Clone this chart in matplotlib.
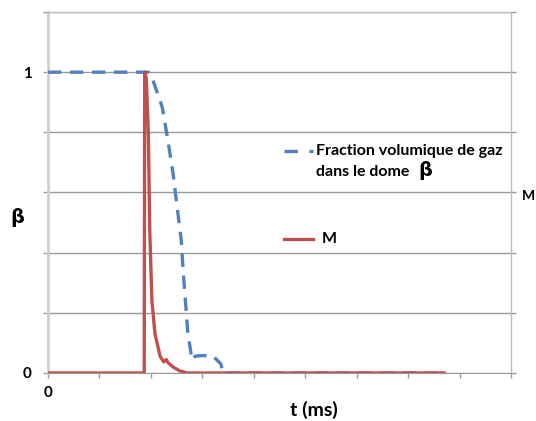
import matplotlib.pyplot as plt
from matplotlib.lines import Line2D

# Data (x in tick units, 9 ticks across)
t_beta = [0.0, 1.95, 2.04, 2.22, 2.33, 2.43, 2.51, 2.59, 2.63, 2.68, 2.72, 2.80,
          2.86, 3.02, 3.21, 3.36, 3.40, 7.70]
beta = [1.0, 1.0, 0.973, 0.884, 0.774, 0.664, 0.552, 0.442, 0.332, 0.22, 0.13, 0.043,
        0.056, 0.058, 0.056, 0.03, 0.0, 0.0]

t_m = [0.0, 1.87, 1.88, 1.91, 1.95, 1.98, 2.02, 2.08, 2.18, 2.25, 2.30, 2.33,
       2.43, 2.55, 2.70, 7.70]
m = [0.0, 0.0, 1.0, 0.98, 0.80, 0.46, 0.24, 0.13, 0.055, 0.037, 0.045, 0.035,
     0.02, 0.008, 0.0, 0.0]

x_ticks = list(range(10))
y_ticks = [0, 0.2, 0.4, 0.6, 0.8, 1.0, 1.2]
y_labels = ["0", "", "", "", "", "1", ""]

blue = "#4f81bd"
red = "#c0504d"
grid_c = "#9a9a9a"

plt.rcParams["font.family"] = ["Lato", "DejaVu Sans"]

fig = plt.figure(figsize=(5.36, 4.21), dpi=100)
ax = fig.add_axes([48 / 536, 1 - 373 / 421, (511 - 48) / 536, (373 - 12) / 421])

ax.plot(t_beta, beta, color=blue, lw=2.4, linestyle=(0, (4, 2.6)), zorder=3)
ax.plot(t_m, m, color=red, lw=2.4, zorder=4, solid_joinstyle="round")

ax.set_xlim(0, 9)
ax.set_ylim(0, 1.2)
ax.set_xticks(x_ticks)
ax.set_xticklabels([""] * len(x_ticks))
ax.set_yticks(y_ticks)
ax.set_yticklabels(y_labels, fontsize=11, fontweight="bold")

ax.grid(axis="y", color=grid_c, lw=1.0)
ax.tick_params(axis="y", length=3.6, color=grid_c, width=1.0, pad=8,
               right=True)
ax.tick_params(axis="x", length=3.6, color=grid_c, width=1.0, direction="out")

for side in ["top", "right"]:
    ax.spines[side].set_color("#bdbdbd")
    ax.spines[side].set_linewidth(1.0)
ax.spines["bottom"].set_color(grid_c)
ax.spines["left"].set_color("#cfcfcf")
ax.spines["left"].set_linewidth(2.0)

# axis texts
fig.text(48 / 536, 1 - 393 / 421, "0", ha="center", va="center",
         fontsize=11, fontweight="bold")
fig.text(314 / 536, 1 - 410 / 421, "t (ms)", ha="center", va="center",
         fontsize=14, fontweight="bold")
fig.text(17 / 536, 1 - 217 / 421, "β", ha="center", va="center",
         fontsize=14, fontweight="bold", family="DejaVu Sans")
fig.text(522 / 536, 1 - 196 / 421, "M", ha="left", va="center",
         fontsize=10, fontweight="bold")

# legend drawn by hand (handle aligned to first text line)
fig.add_artist(Line2D([284 / 536, 313 / 536], [1 - 151 / 421] * 2, color=blue,
                      lw=2.4, linestyle=(0, (4, 3.5)),
                      transform=fig.transFigure))
fig.text(316 / 536, 1 - 151 / 421, "Fraction volumique de gaz", ha="left",
         va="center", fontsize=11.5, fontweight="bold")
fig.text(316 / 536, 1 - 172 / 421, "dans le dome", ha="left",
         va="center", fontsize=11.5, fontweight="bold")
fig.text(418 / 536, 1 - 171 / 421, "β", ha="left",
         va="center", fontsize=14, fontweight="bold", family="DejaVu Sans")
fig.add_artist(Line2D([284 / 536, 313 / 536], [1 - 239 / 421] * 2, color=red,
                      lw=2.4, transform=fig.transFigure))
fig.text(322 / 536, 1 - 239 / 421, "M", ha="left", va="center",
         fontsize=11.5, fontweight="bold")

fig.savefig("out.png", dpi=100)
